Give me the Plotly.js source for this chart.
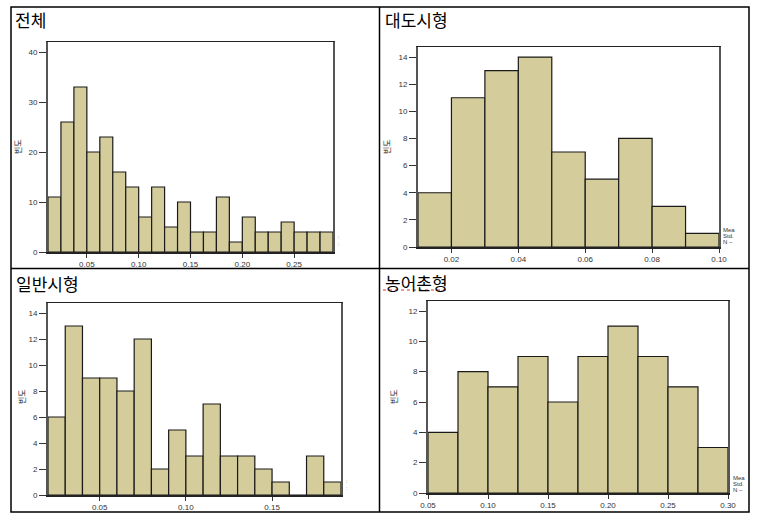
<!DOCTYPE html>
<html>
<head>
<meta charset="utf-8">
<script src="https://cdn.plot.ly/plotly-3.0.1.min.js"></script>
<style>html,body{margin:0;padding:0;background:#fff;}#chart{width:758px;height:521px;}</style>
</head>
<body>
<div id="chart"></div>
<script>
// ---- data ----
const panelTitles = ["전체", "대도시형", "일반시형", "농어촌형"];
const yTitle = "빈도";

// panel 1: 전체
const p1BinStart = [0.0125,0.025,0.0375,0.05,0.0625,0.075,0.0875,0.1,0.1125,0.125,0.1375,0.15,0.1625,0.175,0.1875,0.2,0.2125,0.225,0.2375,0.25,0.2625,0.275];
const p1Counts   = [11,26,33,20,23,16,13,7,13,5,10,4,4,11,2,7,4,4,6,4,4,4];
const p1BinWidth = 0.0125;
const p1XTicks = [0.05,0.10,0.15,0.20,0.25];
const p1YTicks = [0,10,20,30,40];

// panel 2: 대도시형
const p2BinStart = [0.01,0.02,0.03,0.04,0.05,0.06,0.07,0.08,0.09];
const p2Counts   = [4,11,13,14,7,5,8,3,1];
const p2BinWidth = 0.01;
const p2XTicks = [0.02,0.04,0.06,0.08,0.10];
const p2YTicks = [0,2,4,6,8,10,12,14];

// panel 3: 일반시형
const p3BinStart = [0.02,0.03,0.04,0.05,0.06,0.07,0.08,0.09,0.10,0.11,0.12,0.13,0.14,0.15,0.16,0.17,0.18];
const p3Counts   = [6,13,9,9,8,12,2,5,3,7,3,3,2,1,0,3,1];
const p3BinWidth = 0.01;
const p3XTicks = [0.05,0.10,0.15];
const p3YTicks = [0,2,4,6,8,10,12,14];

// panel 4: 농어촌형
const p4BinStart = [0.05,0.075,0.10,0.125,0.15,0.175,0.20,0.225,0.25,0.275];
const p4Counts   = [4,8,7,9,6,9,11,9,7,3];
const p4BinWidth = 0.025;
const p4XTicks = [0.05,0.10,0.15,0.20,0.25,0.30];
const p4YTicks = [0,2,4,6,8,10,12];

const statLabels = ["Mea", "Std.", "N –"];

// ---- layout helpers ----
const W = 758, H = 521;
const px = v => v / W;
const py = v => 1 - v / H;

const BAR_COLOR = "#d4cd9b";

// plot-area boxes in pixels [left, right, top, bottom]
const boxes = [
  [48, 333, 42, 252],
  [418, 719, 47, 247],
  [48, 341, 303, 495],
  [428, 728, 301, 493]
];
const xRanges = [[0.0125,0.2875],[0.01,0.10],[0.02,0.19],[0.05,0.30]];
const yRanges = [[0,42],[0,14.74],[0,14.77],[0,12.66]];
const binStarts = [p1BinStart,p2BinStart,p3BinStart,p4BinStart];
const counts = [p1Counts,p2Counts,p3Counts,p4Counts];
const widths = [p1BinWidth,p2BinWidth,p3BinWidth,p4BinWidth];
const xTicks = [p1XTicks,p2XTicks,p3XTicks,p4XTicks];
const yTicks = [p1YTicks,p2YTicks,p3YTicks,p4YTicks];

const tickFont = {family: "Liberation Sans, Arial, sans-serif", size: 8, color: "#333"};

const data = [];
const layout = {
  width: W, height: H,
  margin: {l:0, r:0, t:0, b:0},
  paper_bgcolor: "#fff",
  plot_bgcolor: "#fff",
  showlegend: false,
  bargap: 0,
  annotations: [],
  shapes: []
};

for (let i = 0; i < 4; i++) {
  const s = i === 0 ? "" : String(i + 1);
  data.push({
    type: "bar",
    x: binStarts[i],
    y: counts[i],
    width: binStarts[i].map(() => widths[i]),
    offset: 0,
    xaxis: "x" + s,
    yaxis: "y" + s,
    marker: {color: BAR_COLOR, line: {color: "#1a1a1a", width: 1.2}},
    hoverinfo: "x+y"
  });
  const b = boxes[i];
  layout["xaxis" + s] = {
    domain: [px(b[0]), px(b[1])],
    anchor: "y" + s,
    range: xRanges[i],
    tickmode: "array",
    tickvals: xTicks[i],
    ticktext: xTicks[i].map(v => v.toFixed(2)),
    ticks: "outside", ticklen: 4, tickwidth: 1, tickcolor: "#333",
    tickfont: tickFont,
    showgrid: false, zeroline: false,
    showline: true, linecolor: "#222", linewidth: 1.5, mirror: true,
    fixedrange: true
  };
  layout["yaxis" + s] = {
    domain: [py(b[3]), py(b[2])],
    anchor: "x" + s,
    range: yRanges[i],
    tickmode: "array",
    tickvals: yTicks[i],
    ticks: "outside", ticklen: 7, tickwidth: 1, tickcolor: "#333",
    tickfont: tickFont,
    showgrid: false, zeroline: false,
    showline: true, linecolor: "#555", linewidth: 2, mirror: true,
    fixedrange: true
  };
}

// cell titles
const titlePos = [[13, 20], [383, 20], [14, 283], [383, 282]];
titlePos.forEach((p, i) => {
  layout.annotations.push({
    xref: "paper", yref: "paper", x: px(p[0]), y: py(p[1]),
    xanchor: "left", yanchor: "middle", showarrow: false,
    text: panelTitles[i],
    font: {family: "Noto Sans CJK KR, sans-serif", size: 17, color: "#000"}
  });
});

// y-axis titles
const yTitlePos = [[17, 147], [386, 147], [21, 397], [393, 397]];
yTitlePos.forEach(p => {
  layout.annotations.push({
    xref: "paper", yref: "paper", x: px(p[0]), y: py(p[1]),
    xanchor: "center", yanchor: "middle", showarrow: false,
    text: yTitle, textangle: -90,
    font: {family: "Noto Sans CJK KR, sans-serif", size: 8, color: "#222"}
  });
});

// truncated stat labels at right of plots
const statPos = [[721, 230], [731, 478]];
statPos.forEach(p => {
  statLabels.forEach((t, k) => {
    layout.annotations.push({
      xref: "paper", yref: "paper", x: px(p[0]), y: py(p[1] + k * 6),
      xanchor: "left", yanchor: "middle", showarrow: false,
      text: t,
      font: {family: "Liberation Sans, Arial, sans-serif", size: 6, color: "#333"}
    });
  });
});
// tiny clipped marks in panels 1 and 3
[[336, 240], [344, 484]].forEach(p => {
  layout.annotations.push({
    xref: "paper", yref: "paper", x: px(p[0]), y: py(p[1]),
    xanchor: "left", yanchor: "middle", showarrow: false,
    text: ":<br>:", 
    font: {family: "Liberation Sans, Arial, sans-serif", size: 5, color: "#444"}
  });
});

// table borders
const border = {color: "#000", width: 1.5};
layout.shapes.push(
  {type: "rect", xref: "paper", yref: "paper", x0: px(11), x1: px(749), y0: py(7), y1: py(512), line: border},
  {type: "line", xref: "paper", yref: "paper", x0: px(379.5), x1: px(379.5), y0: py(7), y1: py(512), line: border},
  {type: "line", xref: "paper", yref: "paper", x0: px(11), x1: px(749), y0: py(268.5), y1: py(268.5), line: border},
  {type: "line", xref: "paper", yref: "paper", x0: px(383), x1: px(446), y0: py(290), y1: py(290), line: {color: "#e03030", width: 1, dash: "dot"}}
);

Plotly.newPlot("chart", data, layout, {staticPlot: true, displayModeBar: false});
</script>
</body>
</html>
